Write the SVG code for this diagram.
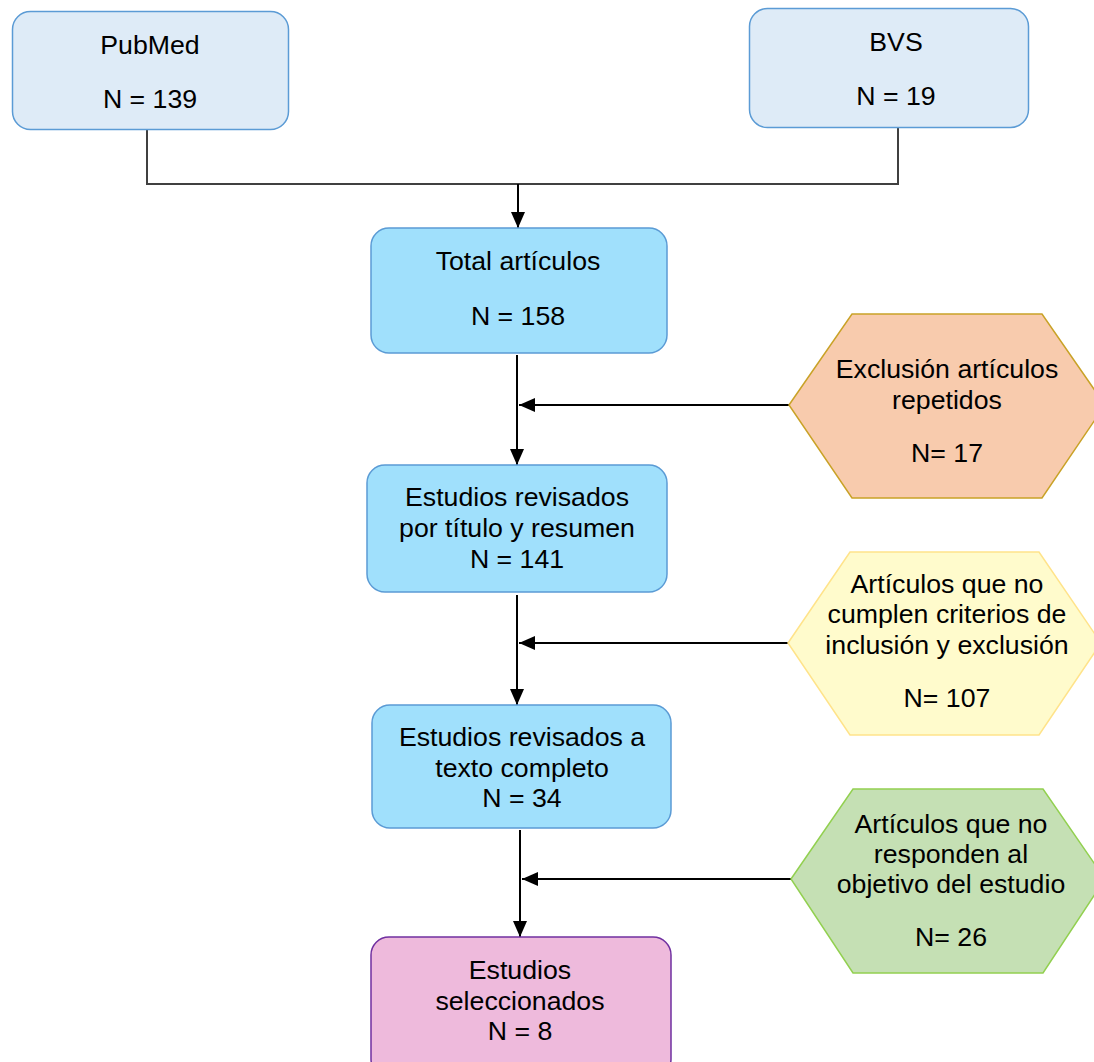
<svg xmlns="http://www.w3.org/2000/svg" width="1094" height="1062" viewBox="0 0 1094 1062">
<style>
text{font-family:"Liberation Sans",Arial,sans-serif;font-size:26.7px;fill:#000;text-anchor:middle}
.src{fill:#DEEBF7;stroke:#5B9BD5;stroke-width:1.5}
.step{fill:#A0E0FC;stroke:#5B9BD5;stroke-width:1.5}
.fin{fill:#EEBADC;stroke:#7030A0;stroke-width:1.5}
.hx1{fill:#F8CBAD;stroke:#C9A227;stroke-width:1.5}
.hx2{fill:#FFFBCC;stroke:#FFE38A;stroke-width:1.5}
.hx3{fill:#C5E0B4;stroke:#92D050;stroke-width:1.5}
.ln{fill:none;stroke:#000;stroke-width:2}
.ln2{fill:none;stroke:#404040;stroke-width:2}
</style>
<defs>
<marker id="ah" viewBox="0 0 16 14" refX="16" refY="7" markerWidth="16" markerHeight="14" markerUnits="userSpaceOnUse" orient="auto">
<path d="M0,0 L16,7 L0,14 Z" fill="#000"/>
</marker>
</defs>
<g id="connectors">
<path class="ln2" d="M147,130 V184 H898 V128"/>
<path class="ln" d="M518,184 V228" marker-end="url(#ah)"/>
<path class="ln" d="M517,355 V465" marker-end="url(#ah)"/>
<path class="ln" d="M789,405 H519" marker-end="url(#ah)"/>
<path class="ln" d="M517,595 V705" marker-end="url(#ah)"/>
<path class="ln" d="M788,643 H519" marker-end="url(#ah)"/>
<path class="ln" d="M520,830 V937" marker-end="url(#ah)"/>
<path class="ln" d="M791,879 H522" marker-end="url(#ah)"/>
</g>
<g id="pubmed">
<rect class="src" x="12.5" y="11.5" width="276" height="118" rx="18"/>
<text x="150" y="54">PubMed</text>
<text x="150" y="108">N = 139</text>
</g>
<g id="bvs">
<rect class="src" x="749.5" y="8.5" width="279" height="119" rx="18"/>
<text x="896" y="51">BVS</text>
<text x="896" y="105">N = 19</text>
</g>
<g id="total">
<rect class="step" x="371" y="228" width="296" height="125" rx="18"/>
<text x="518" y="270">Total artículos</text>
<text x="518" y="325">N = 158</text>
</g>
<g id="exclusion-repetidos">
<polygon class="hx1" points="789,405 852,314 1042,314 1105,405 1042,498 852,498"/>
<text x="947" y="378">Exclusión artículos</text>
<text x="947" y="409">repetidos</text>
<text x="947" y="462">N= 17</text>
</g>
<g id="revisados-titulo">
<rect class="step" x="367" y="465" width="300" height="127" rx="18"/>
<text x="517" y="506">Estudios revisados</text>
<text x="517" y="537">por título y resumen</text>
<text x="517" y="568">N = 141</text>
</g>
<g id="no-cumplen">
<polygon class="hx2" points="788,643 850,552 1039,552 1101,643 1039,735 850,735"/>
<text x="947" y="593">Artículos que no</text>
<text x="947" y="623">cumplen criterios de</text>
<text x="947" y="654">inclusión y exclusión</text>
<text x="947" y="707">N= 107</text>
</g>
<g id="revisados-texto">
<rect class="step" x="372" y="705" width="299" height="123" rx="18"/>
<text x="522" y="746">Estudios revisados a</text>
<text x="522" y="777">texto completo</text>
<text x="522" y="807">N = 34</text>
</g>
<g id="no-responden">
<polygon class="hx3" points="791,879 853,789 1043,789 1105,879 1043,973 853,973"/>
<text x="951" y="833">Artículos que no</text>
<text x="951" y="863">responden al</text>
<text x="951" y="893">objetivo del estudio</text>
<text x="951" y="946">N= 26</text>
</g>
<g id="seleccionados">
<rect class="fin" x="371" y="937" width="300" height="140" rx="18"/>
<text x="520" y="979">Estudios</text>
<text x="520" y="1010">seleccionados</text>
<text x="520" y="1040">N = 8</text>
</g>
</svg>
